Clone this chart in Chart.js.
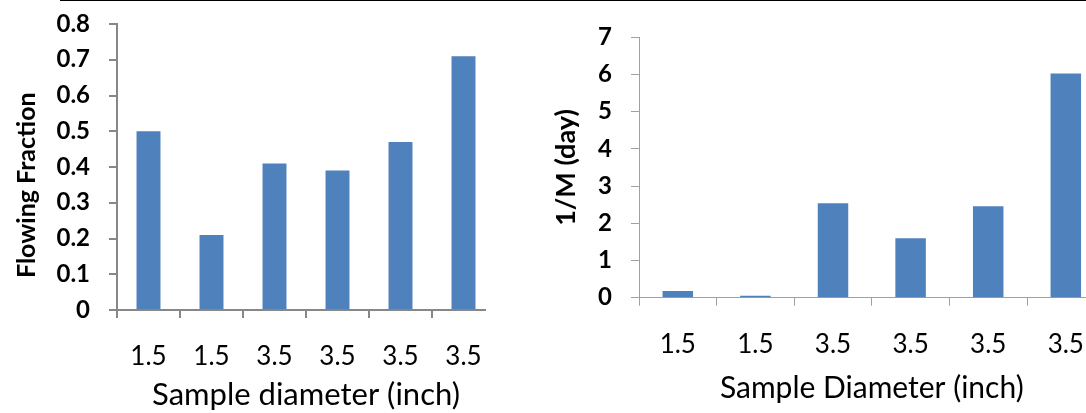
<!DOCTYPE html>
<html><head><meta charset="utf-8">
<script src="https://cdn.jsdelivr.net/npm/chart.js@4.4.1/dist/chart.umd.min.js"></script>
<style>
html,body{margin:0;padding:0;background:#fff;width:1086px;height:413px;overflow:hidden;position:relative}
#topline{position:absolute;left:60px;top:0;width:1026px;height:1px;background:#000}
#wrapL{position:absolute;left:0;top:0;width:486px;height:413px;overflow:hidden}
#wrapR{position:absolute;left:540px;top:0;width:546px;height:413px;overflow:hidden}
canvas{display:block}
</style></head><body>
<div id="topline"></div>
<div id="wrapL"><canvas id="cL" width="500" height="413"></canvas></div>
<div id="wrapR"><canvas id="cR" width="570" height="413"></canvas></div>
<script>
const categories = ['1.5', '1.5', '3.5', '3.5', '3.5', '3.5'];
const flowingFraction = [0.50, 0.21, 0.41, 0.39, 0.47, 0.71];
const inverseM = [0.18, 0.05, 2.54, 1.60, 2.46, 6.03];
const leftYTicks = ['0', '0.1', '0.2', '0.3', '0.4', '0.5', '0.6', '0.7', '0.8'];
const rightYTicks = ['0', '1', '2', '3', '4', '5', '6', '7'];

const BLUE = '#4F81BD';

function build(id, values, yLabels, yMax, yStep, yTitle, xTitle, g) {
  return new Chart(document.getElementById(id), {
    type: 'bar',
    data: {
      labels: categories,
      datasets: [{ data: values, backgroundColor: BLUE, borderWidth: 0,
                   barPercentage: g.barPct, categoryPercentage: 1 }]
    },
    options: {
      responsive: false, animation: false, devicePixelRatio: 1,
      layout: { padding: { left: 0, top: g.top, right: g.right, bottom: 0 } },
      plugins: { legend: { display: false }, tooltip: { enabled: false } },
      scales: {
        x: {
          offset: true,
          grid: { display: true, drawOnChartArea: false, drawTicks: true, tickLength: 8,
                  color: g.axisColor, lineWidth: g.axisWidth, offset: true },
          border: { display: true, color: g.axisColor, width: g.axisWidth },
          ticks: { color: '#000', font: { family: 'Lato', size: 26 }, padding: g.xTickPad,
                   maxRotation: 0, autoSkip: false },
          title: { display: true, text: xTitle, color: '#000',
                   font: { family: 'Lato', size: g.xTitleSize, lineHeight: 1 },
                   padding: { top: 0, bottom: g.xTitlePad } },
          afterFit: s => { s.height = g.xHeight; s.paddingLeft = 0; s.paddingRight = 0; }
        },
        y: {
          min: 0, max: yMax,
          ticks: { stepSize: yStep, color: '#000', font: { family: 'Lato', size: 24, weight: 'bold' },
                   padding: g.yTickPad, callback: (v, i) => yLabels[i] },
          grid: { display: true, drawOnChartArea: false, drawTicks: true, tickLength: 8,
                  color: g.axisColor, lineWidth: g.axisWidth },
          border: { display: true, color: g.axisColor, width: g.axisWidth },
          title: { display: true, text: yTitle, color: '#000',
                   font: { family: 'Lato', size: g.yTitleSize, weight: 'bold', lineHeight: 1 },
                   padding: { top: g.yTitlePad, bottom: 0 } },
          afterFit: s => { s.width = g.yWidth; s.paddingTop = 0; s.paddingBottom = 0; }
        }
      }
    }
  });
}

build('cL', flowingFraction, leftYTicks, 0.8, 0.1,
      'Flowing Fraction      ', 'Sample diameter (inch)',
      { barPct: 0.38, top: 24, right: 5, yWidth: 117, xHeight: 103,
        axisColor: '#878787', axisWidth: 2, xTickPad: 23, xTitleSize: 31, xTitlePad: 2.5,
        yTitleSize: 25, yTitlePad: 14, yTickPad: 19 });

build('cR', inverseM, rightYTicks, 7, 1,
      '1/M (day)', 'Sample Diameter (inch)',
      { barPct: 0.393, top: 37.3, right: 5.4, yWidth: 99, xHeight: 115.3,
        axisColor: '#a0a0a0', axisWidth: 1, xTickPad: 23, xTitleSize: 30, xTitlePad: 10,
        yTitleSize: 27, yTitlePad: 13, yTickPad: 19 });
</script>
</body></html>
